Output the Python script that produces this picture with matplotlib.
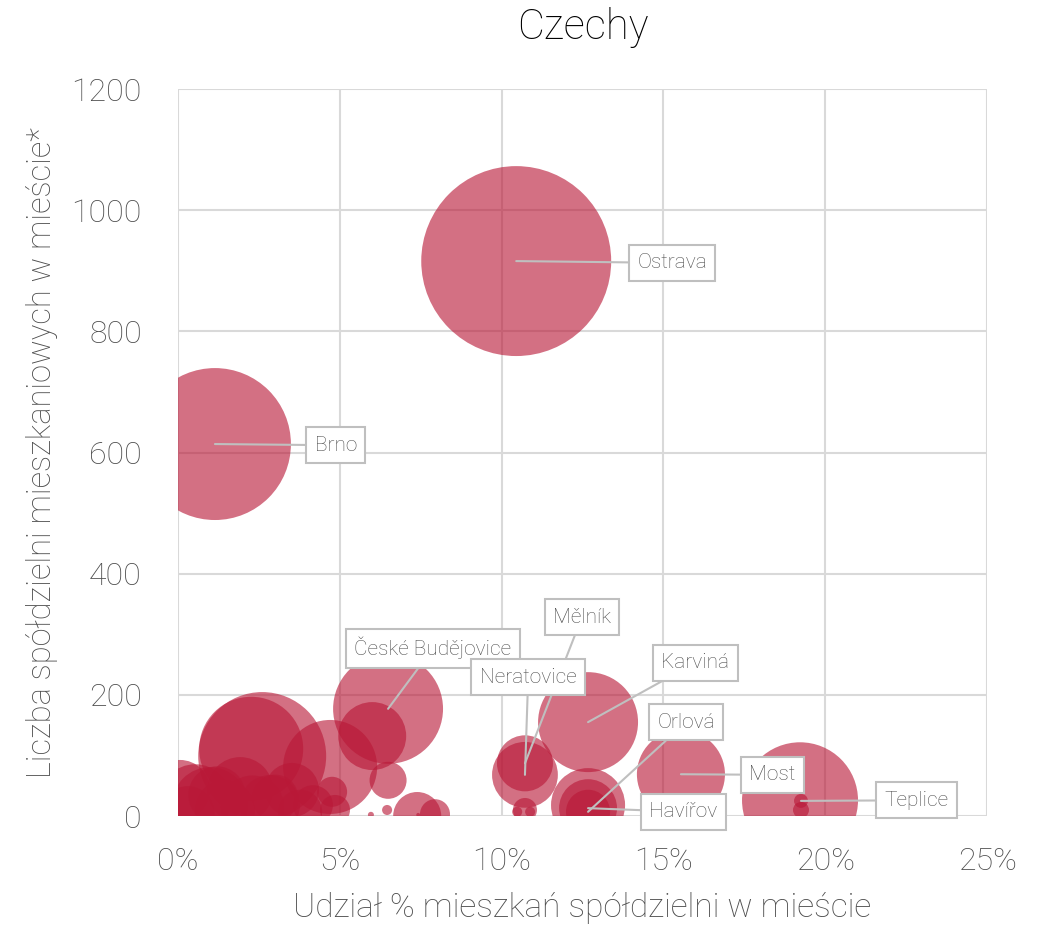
import matplotlib
matplotlib.use('Agg')
import matplotlib.pyplot as plt
from matplotlib.ticker import FuncFormatter

plt.rcParams['font.family'] = ['Roboto', 'DejaVu Sans']

# labelled cities: share of coop flats (%), number of coops, bubble size
cities = ['Ostrava', 'Brno', 'České Budějovice', 'Karviná', 'Mělník',
          'Neratovice', 'Orlová', 'Havířov', 'Most', 'Teplice']
city_x = [10.45, 1.14, 6.49, 12.67, 10.72, 10.72, 12.67, 12.67, 15.54, 19.25]
city_y = [916, 614, 177, 155, 87, 68, 7, 13, 69, 25]
city_size = [100, 64, 33.5, 27.7, 8.7, 12.0, 5.4, 9.3, 21.5, 0.54]

# other (unlabelled) cities
other_x = [19.22, 19.25, 6.0, 6.49, 6.46, 5.96, 7.39, 7.94, 7.42, 2.6,
           2.26, 4.7, 0.53, 0.06, 0.99, 1.92, 1.45, 3.52, 2.84, 4.17,
           4.76, 4.85, 3.77, 10.72, 10.48, 10.88, 12.67, 0.3, 3.0, 1.2, 2.3]
other_y = [26, 10, 132, 59, 10, 2, 0, 3, 2, 99,
           111, 81, 26, 43, 18, 43, 10, 43, 18, 18,
           40, 10, 7, 10, 7, 7, 18, 5, 30, 35, 15]
other_size = [37.3, 0.71, 12.8, 3.8, 0.28, 0.1, 6.4, 2.5, 0.04, 45.4,
              30.0, 24.5, 14.4, 10.0, 16.0, 12.0, 10.0, 8.1, 10.0, 4.4,
              2.5, 2.5, 5.4, 1.6, 0.28, 0.28, 15.2, 8.0, 6.0, 9.0, 11.0]

# where the data labels sit (layout only)
label_pos = {
    'Ostrava': (15.27, 913), 'Brno': (4.88, 612),
    'České Budějovice': (7.88, 277), 'Karviná': (15.98, 253),
    'Mělník': (12.48, 328), 'Neratovice': (10.82, 229),
    'Orlová': (15.70, 155), 'Havířov': (15.61, 7),
    'Most': (18.36, 68), 'Teplice': (22.81, 26),
}

Color = '#B91837'
Alpha = 0.62
Scale = 187  # bubble size -> points^2
grey = '#4D4D4D'

fig = plt.figure(figsize=(10.4, 9.41), dpi=100)
ax = fig.add_axes([0.1712, 0.1328, 0.7779, 0.7726])

ax.scatter(other_x, other_y, s=[v * Scale for v in other_size], c=Color,
           alpha=Alpha, linewidths=0, zorder=2)
ax.scatter(city_x, city_y, s=[v * Scale for v in city_size], c=Color,
           alpha=Alpha, linewidths=0, zorder=2)

for name, x, y in zip(cities, city_x, city_y):
    ax.annotate(name, xy=(x, y), xytext=label_pos[name], textcoords='data',
                ha='center', va='center', fontsize=15, fontweight='light',
                color=grey, zorder=5,
                bbox=dict(boxstyle='square,pad=0.4', fc='white', ec='#BFBFBF', lw=1.5),
                arrowprops=dict(arrowstyle='-', color='#BFBFBF', lw=1.5,
                                shrinkA=0, shrinkB=0))

ax.set_xlim(0, 25)
ax.set_ylim(0, 1200)
ax.set_xticks([0, 5, 10, 15, 20, 25])
ax.set_yticks([0, 200, 400, 600, 800, 1000, 1200])
ax.xaxis.set_major_formatter(FuncFormatter(lambda v, p: '%d%%' % v))
ax.grid(color='#D9D9D9', lw=1.5, zorder=0)
ax.set_axisbelow(True)
for sp in ax.spines.values():
    sp.set_visible(False)
ax.tick_params(length=0, labelsize=23, labelcolor=grey)
ax.tick_params(axis='y', pad=26)
ax.tick_params(axis='x', pad=22)
for lab in ax.get_xticklabels() + ax.get_yticklabels():
    lab.set_fontweight('light')

ax.set_xlabel('Udział % mieszkań spółdzielni w mieście', fontsize=24,
              color=grey, fontweight='light', labelpad=12)
ax.set_ylabel('Liczba spółdzielni mieszkaniowych w mieście*', fontsize=23.5,
              color=grey, fontweight='light', labelpad=10)
ax.set_title('Czechy', fontsize=30, fontweight='light', color='black', pad=36)

plt.savefig('out.png', dpi=100)
